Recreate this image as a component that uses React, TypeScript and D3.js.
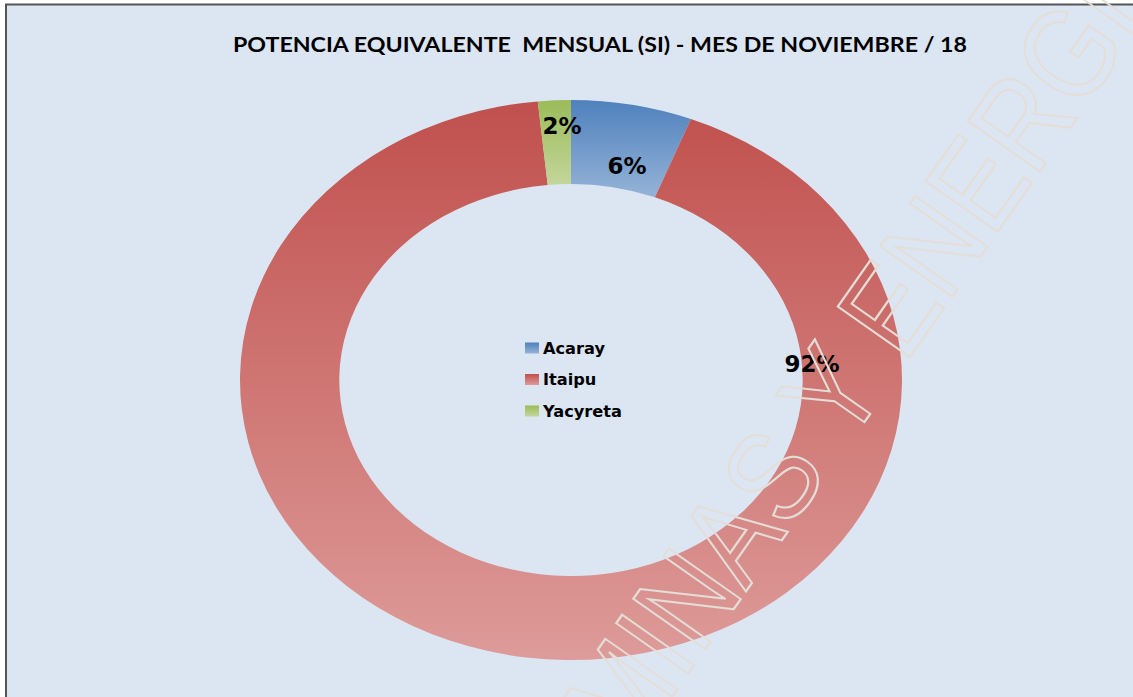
import React from "react";
import * as d3 from "d3";

const categories = ["Acaray", "Itaipu", "Yacyreta"];
const values = [5.9, 92.5, 1.6];
const percentLabels = ["6%", "92%", "2%"];
const title = "POTENCIA EQUIVALENTE  MENSUAL (SI) - MES DE NOVIEMBRE / 18";
const watermark = "MINAS Y ENERGIA";

const gradTop = ["#4f81bd", "#c0504d", "#9bbb59"];
const gradBottom = ["#95b3d7", "#dd9b99", "#c3d69b"];
// manual label placements (as in the source chart)
const labelPos: [number, number][] = [
  [627, 166],
  [812, 364],
  [562, 126],
];

const W = 1133;
const H = 697;
const cx = 571;
const cy = 380;
const outerR = 280;
const innerR = 196;
const xStretch = 331 / 280;

export default function App() {
  const pie = d3.pie<number>().sort(null).value((d) => d);
  const arcs = pie(values);
  const arc = d3.arc<d3.PieArcDatum<number>>().innerRadius(innerR).outerRadius(outerR);

  return (
    <svg width={W} height={H} style={{ position: "absolute", left: 0, top: 0 }}>
      <defs>
        {categories.map((c, i) => (
          <linearGradient key={c} id={`g${i}`} x1="0" y1="0" x2="0" y2="1">
            <stop offset="0" stopColor={gradTop[i]} />
            <stop offset="1" stopColor={gradBottom[i]} />
          </linearGradient>
        ))}
      </defs>
      <rect x={0} y={0} width={W} height={H} fill="#ffffff" />
      <rect x={6} y={4.5} width={W + 10} height={H + 10} fill="#dce6f2" stroke="#555555" strokeWidth={2} />
      <text
        x={600}
        y={52}
        textAnchor="middle"
        fontFamily="Lato, 'Open Sans', sans-serif"
        fontWeight="bold"
        fontSize={20}
        textLength={734}
        lengthAdjust="spacingAndGlyphs"
        fill="#000"
        style={{ whiteSpace: "pre" }}
      >
        {title}
      </text>
      <g transform={`translate(${cx},${cy}) scale(${xStretch},1)`}>
        {arcs.map((a, i) => (
          <path key={categories[i]} d={arc(a) as string} fill={`url(#g${i})`} />
        ))}
      </g>
      {arcs.map((a, i) => (
        <text
          key={"l" + i}
          x={labelPos[i][0]}
          y={labelPos[i][1]}
          dy="0.36em"
          textAnchor="middle"
          fontFamily="'DejaVu Sans', Verdana, sans-serif"
          fontWeight="bold"
          fontSize={23}
          fill="#000"
        >
          {percentLabels[i]}
        </text>
      ))}
      <g fontFamily="'DejaVu Sans', Verdana, sans-serif" fontWeight="bold" fontSize={16.2}>
        {categories.map((c, i) => (
          <g key={c} transform={`translate(525,${348 + i * 31.5})`}>
            <rect x={0} y={-5.5} width={14} height={11} fill={`url(#g${i})`} />
            <text x={18} y={0} dy="0.36em" fill="#000">
              {c}
            </text>
          </g>
        ))}
      </g>
      <text
        transform="translate(630,757) rotate(-55) scale(0.86,1)"
        fontFamily="'Liberation Sans', Arial, sans-serif"
        fontSize={128}
        fill="none"
        stroke="#e4ded8"
        strokeWidth={2.2}
        style={{ whiteSpace: "pre" }}
      >
        {watermark}
      </text>
    </svg>
  );
}
